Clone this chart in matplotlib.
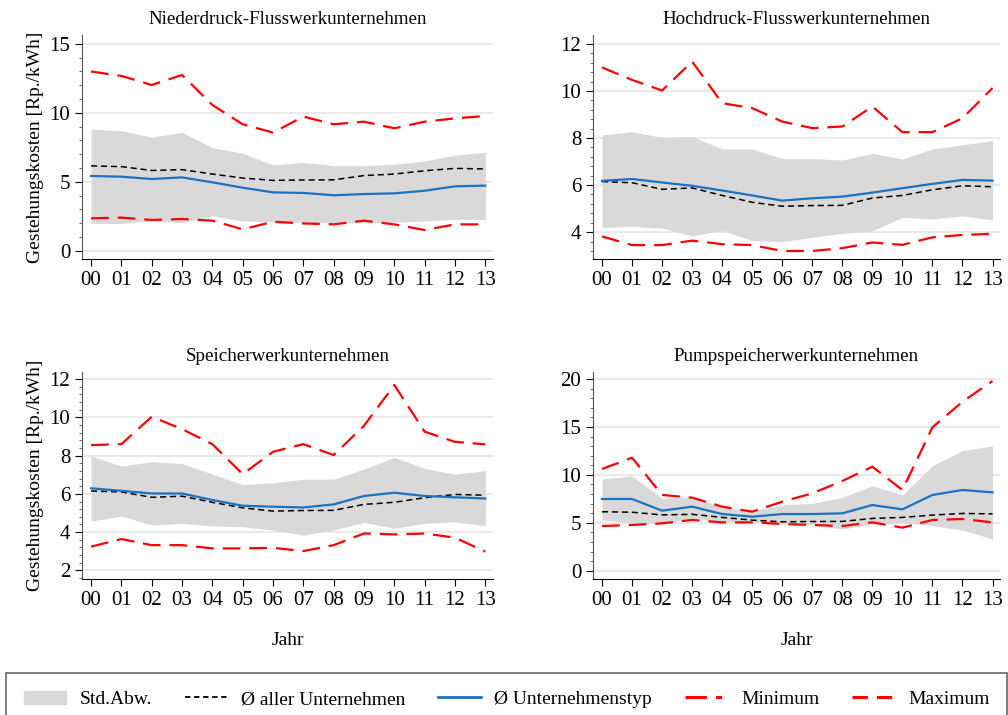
import numpy as np
import matplotlib
matplotlib.use('Agg')
import matplotlib.pyplot as plt
from matplotlib.ticker import AutoMinorLocator, MultipleLocator
from matplotlib.patches import Patch
from matplotlib.lines import Line2D

plt.rcParams['font.family'] = ['Liberation Serif', 'DejaVu Serif']
plt.rcParams['font.size'] = 12

years = ['00', '01', '02', '03', '04', '05', '06', '07', '08', '09', '10', '11', '12', '13']

# Durchschnitt aller Unternehmen (gleich in allen Panels)
avg_all = [6.15, 6.1, 5.82, 5.88, 5.56, 5.27, 5.1, 5.13, 5.14, 5.45, 5.56, 5.8, 5.97, 5.93]

# Niederdruck-Flusswerkunternehmen
nd_mean = [5.42, 5.37, 5.2, 5.32, 4.96, 4.57, 4.23, 4.19, 4.02, 4.11, 4.16, 4.35, 4.67, 4.72]
nd_std_hi = [8.81, 8.71, 8.23, 8.59, 7.48, 7.07, 6.22, 6.41, 6.17, 6.17, 6.27, 6.51, 6.94, 7.14]
nd_std_lo = [1.98, 1.98, 2.18, 2.03, 2.54, 2.15, 2.1, 2.06, 2.03, 2.03, 2.06, 2.15, 2.27, 2.27]
nd_min = [2.35, 2.4, 2.23, 2.3, 2.18, 1.55, 2.1, 1.98, 1.91, 2.18, 1.91, 1.5, 1.91, 1.91]
nd_max = [13.0, 12.68, 12.02, 12.75, 10.57, 9.17, 8.57, 9.73, 9.17, 9.36, 8.88, 9.36, 9.6, 9.77]

# Hochdruck-Flusswerkunternehmen
hd_mean = [6.18, 6.26, 6.11, 5.97, 5.77, 5.56, 5.34, 5.44, 5.51, 5.68, 5.87, 6.05, 6.22, 6.19]
hd_std_hi = [8.13, 8.27, 8.02, 8.06, 7.54, 7.54, 7.12, 7.13, 7.06, 7.35, 7.11, 7.54, 7.71, 7.89]
hd_std_lo = [4.2, 4.24, 4.17, 3.84, 4.07, 3.64, 3.6, 3.78, 3.95, 4.05, 4.63, 4.56, 4.69, 4.52]
hd_min = [3.82, 3.45, 3.45, 3.64, 3.49, 3.45, 3.2, 3.2, 3.32, 3.56, 3.46, 3.78, 3.88, 3.93]
hd_max = [11.0, 10.47, 10.02, 11.25, 9.48, 9.27, 8.7, 8.42, 8.49, 9.34, 8.25, 8.25, 8.84, 10.12]

# Speicherwerkunternehmen
sp_mean = [6.29, 6.16, 6.02, 6.02, 5.68, 5.38, 5.33, 5.29, 5.45, 5.89, 6.06, 5.89, 5.82, 5.76]
sp_std_hi = [7.99, 7.45, 7.68, 7.59, 7.03, 6.49, 6.58, 6.76, 6.77, 7.3, 7.91, 7.33, 7.03, 7.21]
sp_std_lo = [4.58, 4.84, 4.37, 4.46, 4.32, 4.28, 4.11, 3.85, 4.11, 4.51, 4.2, 4.46, 4.54, 4.33]
sp_min = [3.24, 3.64, 3.32, 3.32, 3.15, 3.15, 3.18, 3.01, 3.32, 3.93, 3.88, 3.93, 3.71, 2.98]
sp_max = [8.55, 8.6, 10.03, 9.39, 8.6, 7.03, 8.2, 8.6, 8.03, 9.56, 11.69, 9.25, 8.72, 8.59]

# Pumpspeicherwerkunternehmen
ps_mean = [7.48, 7.48, 6.26, 6.68, 5.91, 5.63, 5.91, 5.91, 5.98, 6.85, 6.4, 7.9, 8.42, 8.17]
ps_std_hi = [9.57, 9.88, 7.55, 7.72, 6.61, 6.26, 6.85, 7.03, 7.65, 8.87, 7.9, 10.96, 12.52, 13.04]
ps_std_lo = [5.29, 5.01, 4.87, 5.46, 5.11, 5.11, 4.87, 4.77, 4.35, 4.87, 5.01, 4.7, 4.24, 3.3]
ps_min = [4.66, 4.77, 4.94, 5.29, 5.04, 5.04, 4.87, 4.77, 4.66, 5.04, 4.49, 5.29, 5.39, 5.04]
ps_max = [10.61, 11.79, 7.9, 7.62, 6.68, 6.16, 7.2, 8.07, 9.36, 10.85, 8.42, 14.96, 17.63, 19.79]

panels = [
    ('Niederdruck-Flusswerkunternehmen', nd_mean, nd_std_lo, nd_std_hi, nd_min, nd_max, (-0.6, 15.65), 5),
    ('Hochdruck-Flusswerkunternehmen', hd_mean, hd_std_lo, hd_std_hi, hd_min, hd_max, (2.86, 12.38), 2),
    ('Speicherwerkunternehmen', sp_mean, sp_std_lo, sp_std_hi, sp_min, sp_max, (1.55, 12.37), 2),
    ('Pumpspeicherwerkunternehmen', ps_mean, ps_std_lo, ps_std_hi, ps_min, ps_max, (-0.87, 20.73), 5),
]

blue = '#1a72c2'
red = '#ff0000'
band = '#d9d9d9'
min_dash = (0, (7, 3, 2, 3))
max_dash = (0, (8, 4))

fig = plt.figure(figsize=(10.08, 7.15), dpi=100)
positions = [
    [0.0813, 0.6378, 0.4077, 0.3133],
    [0.5883, 0.6378, 0.4038, 0.3133],
    [0.0813, 0.1902, 0.4077, 0.2895],
    [0.5883, 0.1902, 0.4038, 0.2895],
]

x = np.arange(len(years))
for i, (title, mean, lo, hi, mn, mx, ylim, step) in enumerate(panels):
    ax = fig.add_axes(positions[i])
    ax.fill_between(x, lo, hi, color=band, lw=0, zorder=1)
    ax.plot(x, avg_all, color='black', lw=1.1, ls=(0, (4, 2.5)), zorder=3)
    ax.plot(x, mean, color=blue, lw=1.6, zorder=3)
    ax.plot(x, mn, color=red, lw=1.6, ls=max_dash, zorder=3)
    ax.plot(x, mx, color=red, lw=1.6, ls=max_dash, zorder=3)
    ax.set_xlim(-0.3, 13.25)
    ax.set_ylim(*ylim)
    ax.yaxis.set_major_locator(MultipleLocator(step))
    ax.yaxis.set_minor_locator(AutoMinorLocator(5))
    ax.set_xticks(x)
    ax.set_xticklabels(years)
    ax.grid(axis='y', color='#e6e6e6', lw=1.2, zorder=0)
    ax.set_axisbelow(True)
    for s in ['top', 'right']:
        ax.spines[s].set_visible(False)
    ax.spines['left'].set_color('#555555')
    ax.spines['bottom'].set_color('black')
    ax.tick_params(axis='both', which='major', length=5, labelsize=15, direction='out')
    ax.tick_params(axis='y', which='minor', length=2.5, color='#555555')
    ax.set_title(title, fontsize=13.7, pad=8)
    if i % 2 == 0:
        ax.set_ylabel('Gestehungskosten [Rp./kWh]', fontsize=14, labelpad=4)
    if i >= 2:
        ax.set_xlabel('Jahr', fontsize=14, labelpad=16)

handles = [
    Patch(facecolor=band, edgecolor=band),
    Line2D([], [], color='black', lw=1.3, ls=(0, (3, 2))),
    Line2D([], [], color=blue, lw=2),
    Line2D([], [], color=red, lw=2.2, ls=min_dash),
    Line2D([], [], color=red, lw=2.2, ls=(0, (5, 3))),
]
labels = ['Std.Abw.', 'Ø aller Unternehmen', 'Ø Unternehmenstyp', 'Minimum', 'Maximum']
leg = fig.legend(handles, labels, loc='lower left', bbox_to_anchor=(0.006, -0.015, 0.993, 0.07),
                 mode='expand', ncol=5, frameon=True, fancybox=False, fontsize=14,
                 handlelength=2.2, handletextpad=0.7, borderpad=0.9, columnspacing=1.2,
                 borderaxespad=0)
leg.get_frame().set_edgecolor('#444444')
leg.get_frame().set_linewidth(1.2)

fig.savefig('out.png', dpi=100)
